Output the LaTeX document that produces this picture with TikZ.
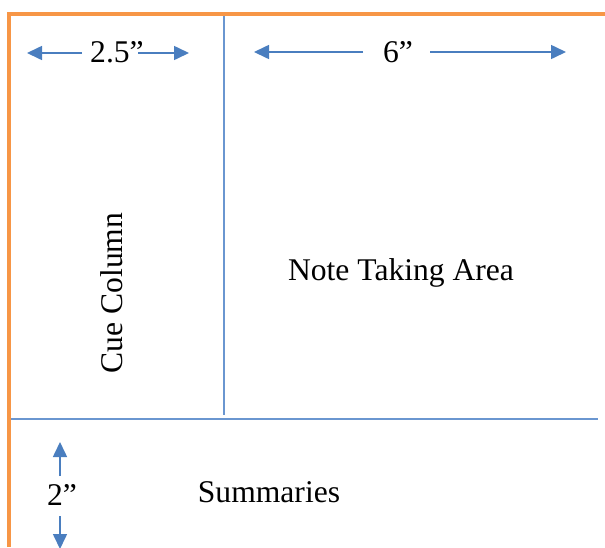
\documentclass[tikz,border=0pt]{standalone}
\usepackage{fontspec}
\setmainfont{Liberation Serif}
\usetikzlibrary{arrows.meta}
\definecolor{borderorange}{HTML}{F79646}
\definecolor{lineblue}{HTML}{6A96D0}
\definecolor{arrowblue}{HTML}{4A7EBF}
\tikzset{
  border/.style={draw=borderorange, line width=4pt},
  divider/.style={draw=lineblue, line width=1.8pt},
  dimarrow/.style={draw=arrowblue, line width=1.6pt, -{Triangle[length=15pt,width=14pt]}},
  txt/.style={inner sep=0pt, font=\fontsize{31.6}{38}\selectfont}
}
\begin{document}
\begin{tikzpicture}[x=1pt,y=-1pt]
\useasboundingbox (0,0) rectangle (605,547);
% dividers
\coordinate (vtop) at (224,16);
\coordinate (vbot) at (224,415);
\coordinate (hl) at (11,419);
\coordinate (hr) at (598,419);
\draw[divider] (vtop) -- (vbot);
\draw[divider] (hl) -- (hr);
% orange border
\coordinate (bl) at (9,547);
\coordinate (tlc) at (9,14);
\coordinate (tr) at (605,14);
\draw[border] (bl) -- (tlc) -- (tr);
% labels
\node[txt] (w25) at (117,52) {2.5”};
\node[txt] (w6) at (398,52) {6”};
\node[txt] (h2) at (62,495) {2”};
\node[txt, rotate=90] (cue) at (112,293) {Cue Column};
\node[txt] (note) at (401,273) {Note Taking Area};
\node[txt] (summ) at (269,492) {Summaries};
% dimension arrows
\coordinate (a1s) at (82,53);  \coordinate (a1e) at (27,53);
\coordinate (a2s) at (138,53); \coordinate (a2e) at (189,53);
\coordinate (b1s) at (363,52); \coordinate (b1e) at (254,52);
\coordinate (b2s) at (430,52); \coordinate (b2e) at (566,52);
\coordinate (c1s) at (60,476); \coordinate (c1e) at (60,442);
\coordinate (c2s) at (60,516); \coordinate (c2e) at (60,549);
\draw[dimarrow] (a1s) -- (a1e);
\draw[dimarrow] (a2s) -- (a2e);
\draw[dimarrow] (b1s) -- (b1e);
\draw[dimarrow] (b2s) -- (b2e);
\draw[dimarrow] (c1s) -- (c1e);
\draw[dimarrow] (c2s) -- (c2e);
\end{tikzpicture}
\end{document}
